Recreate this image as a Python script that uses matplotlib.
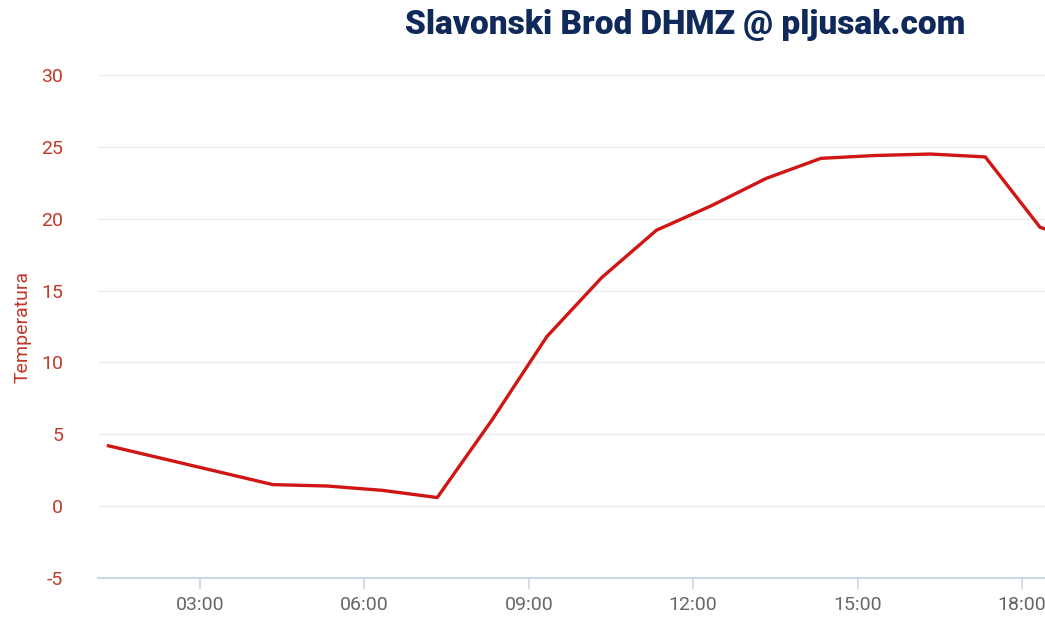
import matplotlib
matplotlib.use("Agg")
import matplotlib.pyplot as plt

# sati (decimalno) i temperatura
hours = [1.33, 4.33, 5.33, 6.33, 7.33, 8.33, 9.33, 10.33, 11.33, 12.33,
         13.33, 14.33, 15.33, 16.33, 17.33, 18.33, 19.33]
temp = [4.2, 1.5, 1.4, 1.1, 0.6, 6.0, 11.8, 15.9, 19.2, 20.9,
        22.8, 24.2, 24.4, 24.5, 24.3, 19.4, 18.2]
tick_hours = [3, 6, 9, 12, 15, 18]
tick_labels = ["03:00", "06:00", "09:00", "12:00", "15:00", "18:00"]
y_ticks = [-5, 0, 5, 10, 15, 20, 25, 30]

plt.rcParams['font.family'] = ['Roboto', 'DejaVu Sans']
plt.rcParams['axes.unicode_minus'] = False

fig = plt.figure(figsize=(10.45, 6.27), dpi=100)
ax = fig.add_axes([0.0938, 0.0781, 0.9062, 0.8023])

ax.plot(hours, temp, color='#d01515', linewidth=2.4, solid_joinstyle='round')

ax.set_xlim(1.14, 18.42)
ax.set_ylim(-5, 30)
ax.set_xticks(tick_hours)
ax.set_xticklabels(tick_labels)
ax.set_yticks(y_ticks)

ax.grid(axis='y', color='#ededed', linewidth=1)
ax.set_axisbelow(True)
for s in ['top', 'right', 'left']:
    ax.spines[s].set_visible(False)
ax.spines['bottom'].set_color('#ccd6eb')
ax.spines['bottom'].set_linewidth(1.5)

ax.tick_params(axis='x', colors='#ccd6eb', labelcolor='#666666', labelsize=14,
               length=8, width=1.2, pad=5)
ax.tick_params(axis='y', length=0, labelcolor='#c0392b', labelsize=14, pad=25)

ax.set_ylabel("Temperatura", color='#c0392b', fontsize=14)
ax.yaxis.set_label_coords(-0.07, 0.5)

fig.text(0.656, 0.96, "Slavonski Brod DHMZ @ pljusak.com", ha='center', va='center',
         fontsize=24, fontweight='heavy', color='#0f2a5a')

plt.savefig("out.png", dpi=100)
